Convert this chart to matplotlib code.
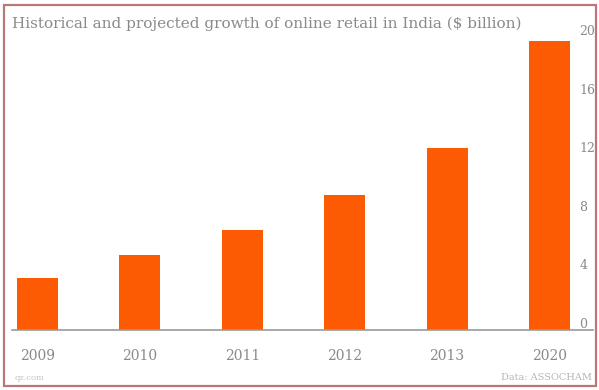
import matplotlib.pyplot as plt
import matplotlib.transforms as mtransforms
from matplotlib.patches import Rectangle

years = ["2009", "2010", "2011", "2012", "2013", "2020"]
sales = [3.55, 5.1, 6.8, 9.2, 12.4, 19.7]
y_ticks = [0, 4, 8, 12, 16, 20]

bar_color = "#fc5a03"
text_color = "#8a8a8a"
font = ["DejaVu Serif"]

fig = plt.figure(figsize=(5.99, 3.90), dpi=100)
ax = fig.add_axes([12 / 599, 60 / 390, 563 / 599, 293 / 390])

ax.bar(range(len(years)), sales, width=0.4, color=bar_color, zorder=2)
ax.axhline(0, xmin=0, xmax=1.032, color="#9a9a9a", lw=1.2, clip_on=False, zorder=3)

ax.set_xlim(-0.249, 5.249)
ax.set_ylim(0, 20)
ax.set_xticks(range(len(years)))
ax.set_xticklabels(years, family=font, fontsize=10, color=text_color)
ax.tick_params(axis="x", length=0, pad=14)

ax.yaxis.tick_right()
ax.set_yticks(y_ticks)
ax.set_yticklabels([str(t) for t in y_ticks], family=font, fontsize=9, color=text_color)
ax.tick_params(axis="y", length=0, pad=3)
# tick numbers sit just above their value line
shift = mtransforms.ScaledTranslation(0, 7 / 100, fig.dpi_scale_trans)
for lbl in ax.get_yticklabels():
    lbl.set_transform(lbl.get_transform() + shift)

for side in ax.spines.values():
    side.set_visible(False)

fig.text(12 / 599, 1 - 24 / 390,
         "Historical and projected growth of online retail in India ($ billion)",
         family=font, fontsize=11, color=text_color, va="center", ha="left")
fig.text(15 / 599, 1 - 378 / 390, "qz.com", family=font, fontsize=6,
         color="#c4c4c4", va="center", ha="left")
fig.text(592 / 599, 1 - 378 / 390, "Data: ASSOCHAM", family=font, fontsize=7,
         color="#b5b5b5", va="center", ha="right")

# reddish frame around the whole graphic
fig.patches.append(Rectangle((4 / 599, 4 / 390), 592 / 599, 381 / 390,
                             transform=fig.transFigure, fill=False,
                             edgecolor="#b87878", lw=1.6))

fig.savefig("out.png", dpi=100, facecolor="white")
